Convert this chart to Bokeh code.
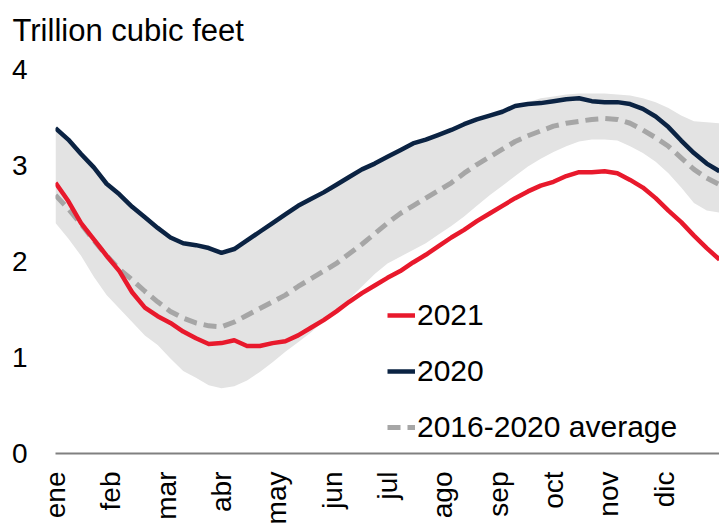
import math
from bokeh.plotting import figure
from bokeh.models import FixedTicker, Legend, LegendItem, LinearAxis, Range1d, Title
from bokeh.embed import file_html
from bokeh.resources import INLINE

# ---- data (weekly, week 0 = start of year) ----
weeks = list(range(53))

s2021 = [2.82, 2.63, 2.40, 2.23, 2.06, 1.90, 1.68, 1.52, 1.43, 1.36,
         1.27, 1.20, 1.14, 1.15, 1.18, 1.12, 1.12, 1.15, 1.17, 1.23,
         1.31, 1.39, 1.48, 1.58, 1.67, 1.75, 1.83, 1.90, 1.99, 2.07,
         2.16, 2.25, 2.33, 2.42, 2.50, 2.58, 2.66, 2.73, 2.79, 2.83,
         2.89, 2.93, 2.93, 2.94, 2.92, 2.85, 2.77, 2.66, 2.53, 2.41,
         2.27, 2.14, 2.02]

s2020 = [3.39, 3.27, 3.12, 2.98, 2.81, 2.70, 2.57, 2.46, 2.35, 2.25,
         2.19, 2.17, 2.14, 2.09, 2.13, 2.22, 2.31, 2.40, 2.49, 2.58,
         2.65, 2.72, 2.80, 2.88, 2.96, 3.02, 3.09, 3.16, 3.23, 3.27,
         3.32, 3.37, 3.43, 3.48, 3.52, 3.56, 3.62, 3.64, 3.65, 3.67,
         3.69, 3.70, 3.67, 3.66, 3.66, 3.64, 3.59, 3.51, 3.40, 3.26,
         3.13, 3.02, 2.94]

avg_2016_2020 = [2.69, 2.55, 2.39, 2.22, 2.06, 1.92, 1.81, 1.69, 1.58, 1.48,
                 1.41, 1.36, 1.33, 1.32, 1.37, 1.44, 1.51, 1.58, 1.65, 1.74,
                 1.82, 1.90, 1.98, 2.08, 2.18, 2.29, 2.40, 2.50, 2.58, 2.66,
                 2.74, 2.82, 2.92, 3.01, 3.09, 3.17, 3.25, 3.31, 3.36, 3.41,
                 3.44, 3.46, 3.48, 3.49, 3.48, 3.44, 3.37, 3.29, 3.20, 3.08,
                 2.96, 2.87, 2.80]

range_high = [3.40, 3.28, 3.13, 2.99, 2.82, 2.71, 2.58, 2.47, 2.36, 2.26,
              2.20, 2.18, 2.15, 2.10, 2.14, 2.23, 2.32, 2.41, 2.50, 2.59,
              2.66, 2.73, 2.81, 2.89, 2.97, 3.03, 3.10, 3.17, 3.24, 3.28,
              3.33, 3.38, 3.44, 3.49, 3.53, 3.57, 3.63, 3.66, 3.70, 3.72,
              3.74, 3.75, 3.75, 3.75, 3.74, 3.73, 3.70, 3.66, 3.60, 3.52,
              3.46, 3.45, 3.44]

range_low = [2.40, 2.24, 2.06, 1.84, 1.65, 1.51, 1.37, 1.23, 1.13, 0.99,
             0.86, 0.79, 0.71, 0.68, 0.70, 0.76, 0.85, 0.95, 1.06, 1.16,
             1.26, 1.38, 1.50, 1.61, 1.74, 1.87, 1.98, 2.05, 2.12, 2.19,
             2.28, 2.37, 2.47, 2.58, 2.69, 2.79, 2.89, 2.99, 3.07, 3.14,
             3.20, 3.25, 3.27, 3.27, 3.26, 3.20, 3.13, 3.04, 2.92, 2.77,
             2.61, 2.53, 2.51]

months = ["ene", "feb", "mar", "abr", "may", "jun",
          "jul", "ago", "sep", "oct", "nov", "dic"]
y_ticks = [0, 1, 2, 3, 4]
series_labels = ["2021", "2020", "2016-2020 average"]
title_text = "Trillion cubic feet"

FONT = "Liberation Sans"

p = figure(width=719, height=527, x_range=Range1d(0, 52), y_range=Range1d(0, 4),
           output_backend="svg", toolbar_location=None, x_axis_location=None,
           min_border_left=55, min_border_right=0, min_border_top=69,
           min_border_bottom=72)
p.outline_line_color = None
p.grid.visible = False
p.background_fill_color = "white"
p.border_fill_color = "white"

# title
p.title.text = title_text
p.title.text_font = FONT
p.title.text_font_size = "31px"
p.title.text_font_style = "normal"
p.title.text_color = "black"
p.title.align = "left"
p.title.vertical_align = "top"
p.title.offset = -43
p.title.standoff = 0

# thin spacer between the title and the plot frame
p.add_layout(Title(text=" ", text_font_size="1px", standoff=17), "above")

# month axis
p.extra_x_ranges = {"m": Range1d(0, len(months))}
xa = LinearAxis(x_range_name="m", ticker=FixedTicker(ticks=list(range(len(months)))),
                major_label_overrides={i: m for i, m in enumerate(months)})
xa.major_label_orientation = math.pi / 2
xa.major_tick_in = 0
xa.major_tick_out = 0
xa.major_tick_line_color = None
xa.minor_tick_line_color = None
xa.axis_line_color = "#808080"
xa.axis_line_width = 2
xa.major_label_standoff = 18
xa.major_label_text_font = FONT
xa.major_label_text_font_size = "28px"
xa.major_label_text_color = "black"
p.add_layout(xa, "below")

ya = p.yaxis[0]
ya.ticker = FixedTicker(ticks=y_ticks)
ya.axis_line_color = None
ya.major_tick_line_color = None
ya.minor_tick_line_color = None
ya.major_tick_in = 0
ya.major_tick_out = 0
ya.major_label_standoff = 28
ya.major_label_text_font = FONT
ya.major_label_text_font_size = "28px"
ya.major_label_text_color = "black"

# band
p.varea(x=weeks, y1=range_low, y2=range_high, fill_color="#e3e3e3")

r_avg = p.line(weeks, avg_2016_2020, line_color="#a6a6a6", line_width=5,
               line_dash="13 7")
r20 = p.line(weeks, s2020, line_color="#0b2343", line_width=4.5, line_join="round")
r21 = p.line(weeks, s2021, line_color="#e8192c", line_width=4.5, line_join="round")

legend = Legend(items=[LegendItem(label=series_labels[0], renderers=[r21]),
                       LegendItem(label=series_labels[1], renderers=[r20]),
                       LegendItem(label=series_labels[2], renderers=[r_avg])],
                location=(332, 8))
legend.margin = 0
legend.padding = 0
legend.border_line_alpha = 0
legend.background_fill_alpha = 0
legend.glyph_width = 28
legend.glyph_height = 36
legend.label_height = 36
legend.label_standoff = 2
legend.spacing = 20
legend.label_text_font = FONT
legend.label_text_font_size = "30px"
legend.label_text_color = "black"
p.add_layout(legend)

open("out.html", "w").write(file_html(p, INLINE))
